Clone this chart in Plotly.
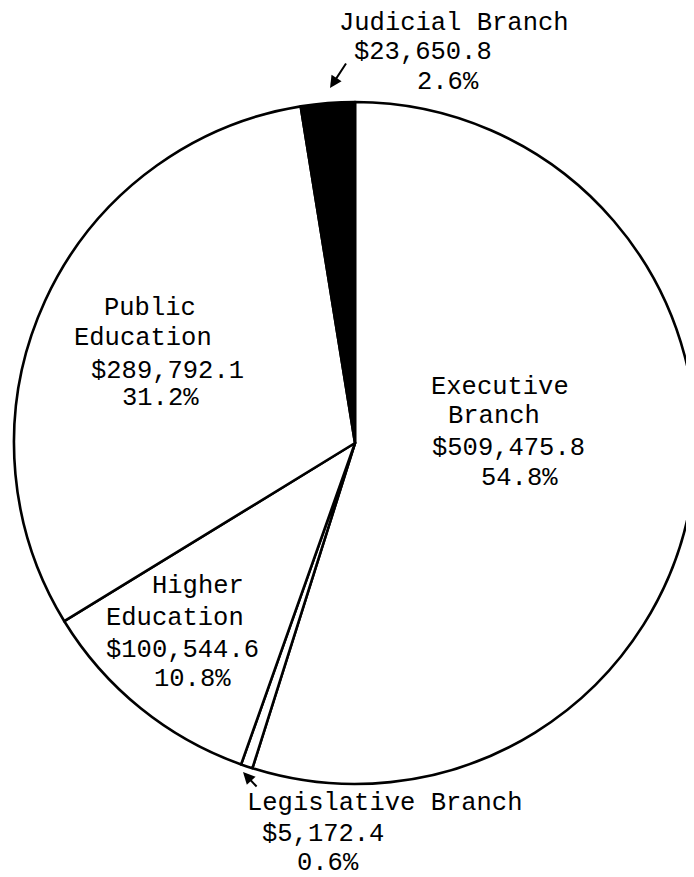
import plotly.graph_objects as go

# ---- data ----
categories = ["Executive Branch", "Legislative Branch", "Higher Education",
              "Public Education", "Judicial Branch"]
values = [509475.8, 5172.4, 100544.6, 289792.1, 23650.8]
percents = [54.8, 0.6, 10.8, 31.2, 2.6]
label_names = [["Executive", "Branch"], ["Legislative Branch"], ["Higher", "Education"],
               ["Public", "Education"], ["Judicial Branch"]]

# ---- styling / layout ----
W, H = 694, 877
OFF = 8            # page body margin of the browser
TX, TY = 2, -1     # text box padding offsets
fills = ["white", "white", "white", "white", "black"]
FONT = "Courier New, Liberation Mono, monospace"
FS = 25.5
# left edge / vertical centre (screen pixels) of each text line, per slice
line_pos = [
    [(432, 386), (449, 415), (433, 447), (482, 477)],
    [(248, 802), (263, 833), (298, 862)],
    [(153, 585), (107, 617), (107, 649), (155, 678)],
    [(105, 307), (75, 337), (92, 370), (123, 398)],
    [(340, 23), (355, 52), (418, 82)],
]

CX, CY, R = 355 - OFF, 443 - OFF, 341

fig = go.Figure(go.Pie(
    labels=categories,
    values=values,
    sort=False,
    direction="clockwise",
    rotation=0,
    textinfo="none",
    hoverinfo="none",
    marker=dict(colors=fills, line=dict(color="black", width=2.6)),
    domain=dict(x=[(CX - R) / W, min(1.0, (CX + R) / W)],
                y=[1 - (CY + R) / H, 1 - (CY - R) / H]),
    showlegend=False,
))


def px(x):
    return (x - OFF - TX) / W


def py(y):
    return 1 - (y - OFF - TY) / H


annotations = []
for names, val, pct, pos in zip(label_names, values, percents, line_pos):
    lines = names + ["${:,.1f}".format(val), "{:.1f}%".format(pct)]
    for txt, (x, y) in zip(lines, pos):
        annotations.append(dict(
            text=txt, x=px(x), y=py(y), xref="paper", yref="paper",
            xanchor="left", yanchor="middle", showarrow=False, borderpad=0,
            font=dict(family=FONT, size=FS, color="black"),
        ))

# pointer arrows for the two thin slices
annotations.append(dict(text="", x=(330 - OFF) / W, y=1 - (88 - OFF) / H,
                        xref="paper", yref="paper",
                        showarrow=True, ax=17, ay=-26, arrowhead=2, arrowsize=1.2,
                        arrowwidth=2, arrowcolor="black"))
annotations.append(dict(text="", x=(243 - OFF) / W, y=1 - (772 - OFF) / H,
                        xref="paper", yref="paper",
                        showarrow=True, ax=15, ay=16, arrowhead=2, arrowsize=1.2,
                        arrowwidth=2, arrowcolor="black"))

fig.update_layout(
    width=W, height=H,
    margin=dict(l=0, r=0, t=0, b=0),
    paper_bgcolor="white", plot_bgcolor="white",
    annotations=annotations,
)

fig.write_html("out.html")
